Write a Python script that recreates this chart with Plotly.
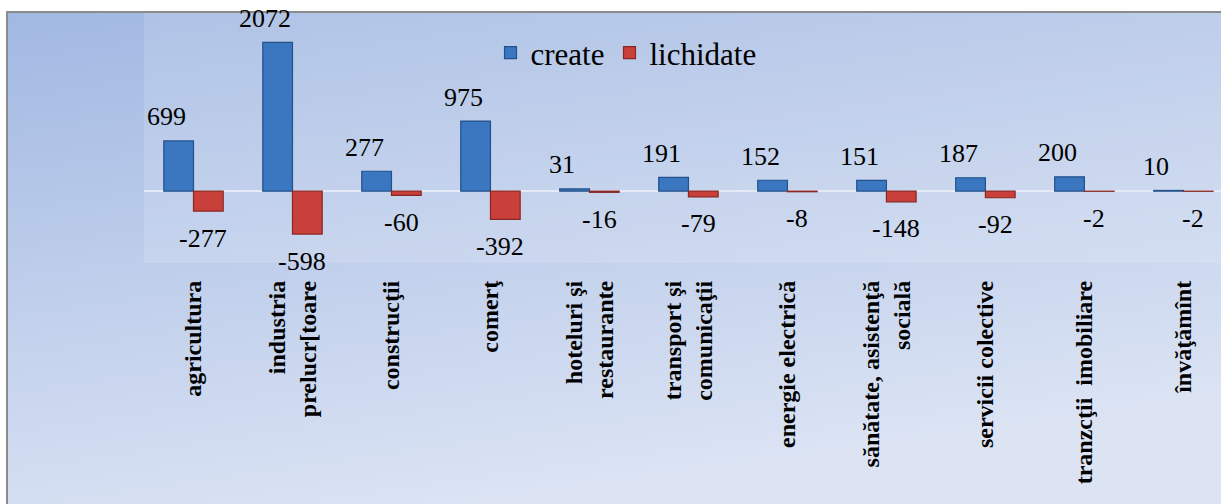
import base64
import plotly.graph_objects as go

categories = [
    "agricultura",
    "industria<br>prelucr[toare",
    "construcţii",
    "comerţ",
    "hoteluri şi<br>restaurante",
    "transport şi<br>comunicaţii",
    "energie electrică",
    "sănătate, asistenţă<br>socială",
    "servicii colective",
    "tranzcţii  imobiliare",
    "învăţămînt",
]
create = [699, 2072, 277, 975, 31, 191, 152, 151, 187, 200, 10]
lichidate = [-277, -598, -60, -392, -16, -79, -8, -148, -92, -2, -2]

W, H = 1221, 504
L, R, T, B = 144, 0, 13, 241
pw, ph = W - L - R, H - T - B

SERIF = "Liberation Serif"

fig = go.Figure()
fig.add_trace(go.Bar(
    x=categories, y=create, name="create",
    marker=dict(color="#3B77C0", line=dict(color="#22508A", width=1.2)),
))
fig.add_trace(go.Bar(
    x=categories, y=lichidate, name="lichidate",
    marker=dict(color="#C93F39", line=dict(color="#8A2723", width=1.2)),
))

# data labels
for c, v in zip(categories, create):
    fig.add_annotation(x=c, y=v, xref="x", yref="y", text=str(v), showarrow=False,
                       xshift=-27, yshift=24, font=dict(family=SERIF, size=26, color="black"))
for c, v in zip(categories, lichidate):
    fig.add_annotation(x=c, y=v, xref="x", yref="y", text=str(v), showarrow=False,
                       xshift=10, yshift=-27, font=dict(family=SERIF, size=26, color="black"))

# gradient background (chart area frame)
svg = ('<svg xmlns="http://www.w3.org/2000/svg" width="200" height="100" preserveAspectRatio="none">'
       '<defs><linearGradient id="g" x1="0" y1="0" x2="0.35" y2="1">'
       '<stop offset="0" stop-color="#A1B8E2"/>'
       '<stop offset="1" stop-color="#DCE4F4"/>'
       '</linearGradient></defs><rect width="200" height="100" fill="url(#g)"/></svg>')
src = "data:image/svg+xml;base64," + base64.b64encode(svg.encode()).decode()

fx0 = (7 - L) / pw
fy1 = (H - B - 12) / ph
fig.add_layout_image(dict(source=src, xref="paper", yref="paper", x=fx0, y=fy1,
                          sizex=(W + 10 - 7) / pw, sizey=(H + 10 - 12) / ph,
                          xanchor="left", yanchor="top", sizing="stretch", layer="below"))
# plot area lighter
fig.add_shape(type="rect", xref="paper", yref="paper", x0=0, x1=1.02, y0=0, y1=1,
              fillcolor="rgba(255,255,255,0.14)", line=dict(width=0), layer="below")
# frame border
fig.add_shape(type="rect", xref="paper", yref="paper", x0=fx0, x1=1.05, y0=-2.5, y1=fy1,
              fillcolor="rgba(0,0,0,0)", line=dict(color="#8C8C8C", width=2), layer="above")

fig.update_layout(
    width=W, height=H,
    margin=dict(l=L, r=R, t=T, b=B, pad=0),
    paper_bgcolor="white",
    plot_bgcolor="rgba(0,0,0,0)",
    barmode="group", bargap=0.4, bargroupgap=0,
    showlegend=True,
    legend=dict(orientation="h", x=(626 - L) / pw, xanchor="center",
                y=(H - B - 53) / ph, yanchor="middle",
                font=dict(family=SERIF, size=31, color="black"),
                bgcolor="rgba(0,0,0,0)", itemwidth=30, tracegroupgap=0),
    font=dict(family=SERIF, color="black"),
)
fig.update_xaxes(range=[-0.5, 10.38], showgrid=False, showline=False, ticks="",
                 tickangle=-90, tickfont=dict(family=SERIF, size=24, color="black", weight="bold"),
                 ticklabelstandoff=12, zeroline=False)
fig.update_yaxes(range=[-1000, 2480], showgrid=False, showticklabels=False, ticks="",
                 showline=False, zeroline=True, zerolinecolor="#E4EBF7", zerolinewidth=2)

fig.write_html("out.html", config={"displayModeBar": False},
               post_script="document.body.style.margin='0px';document.body.style.overflow='hidden';")
